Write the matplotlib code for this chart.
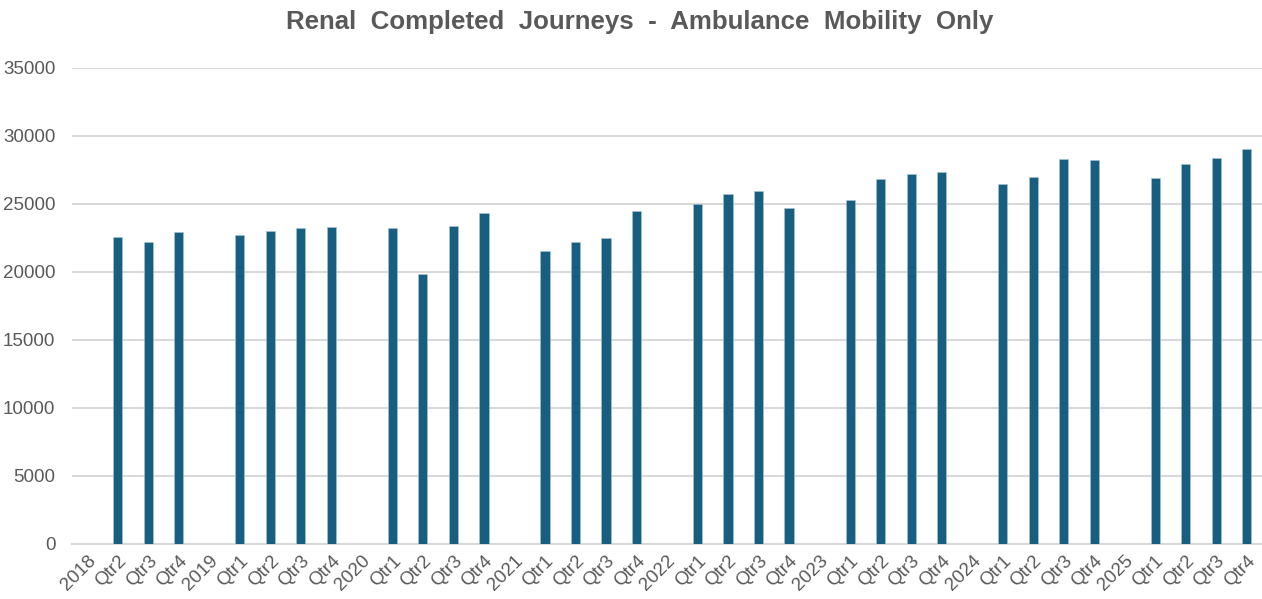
import numpy as np
import matplotlib
matplotlib.use('Agg')
import matplotlib.pyplot as plt

matplotlib.rc('font', family=['Liberation Sans', 'DejaVu Sans'])

# quarters, with the year heading each block (no bar at the year slot)
years = ['2018', '2019', '2020', '2021', '2022', '2023', '2024', '2025']
labels = ['2018', 'Qtr2', 'Qtr3', 'Qtr4']
for y in years[1:]:
    labels += [y, 'Qtr1', 'Qtr2', 'Qtr3', 'Qtr4']

journeys = [
    np.nan, 22520, 22150, 22890,
    np.nan, 22710, 23000, 23180, 23280,
    np.nan, 23180, 19800, 23370, 24330,
    np.nan, 21490, 22150, 22450, 24500,
    np.nan, 24990, 25750, 25920, 24700,
    np.nan, 25260, 26780, 27150, 27340,
    np.nan, 26420, 26950, 28270, 28180,
    np.nan, 26860, 27910, 28370, 29030,
]

BAR = '#175E80'
GREY = '#595959'
GRID = '#D9D9D9'

fig = plt.figure(figsize=(12.62, 5.99), dpi=100)
ax = fig.add_axes([72 / 1262, 55.3 / 599, 1190 / 1262, 476 / 599])

x = np.arange(len(labels))
ax.bar(x, journeys, width=0.3, color=BAR, edgecolor='#A9C6D6', linewidth=0.4, zorder=3)

ax.set_xlim(-0.5, len(labels) - 0.5)
ax.set_ylim(0, 35000)
ax.set_yticks(np.arange(0, 35001, 5000))
ax.yaxis.grid(True, color=GRID, linewidth=1.5, zorder=0)
ax.set_axisbelow(True)

for s in ('top', 'right', 'left'):
    ax.spines[s].set_visible(False)
ax.spines['bottom'].set_color(GRID)
ax.spines['bottom'].set_linewidth(1.5)

ax.set_xticks(x)
ax.set_xticklabels(labels, rotation=45, ha='right', rotation_mode='anchor',
                   fontsize=13.5, color=GREY)
ax.tick_params(axis='x', length=0, pad=6)
ax.tick_params(axis='y', length=0, pad=12, labelsize=13.5, labelcolor=GREY)

fig.suptitle('Renal  Completed  Journeys  -  Ambulance  Mobility  Only',
             fontsize=18.6, fontweight='bold', color=GREY, x=0.507, y=0.983)

fig.savefig('out.png', dpi=100)
